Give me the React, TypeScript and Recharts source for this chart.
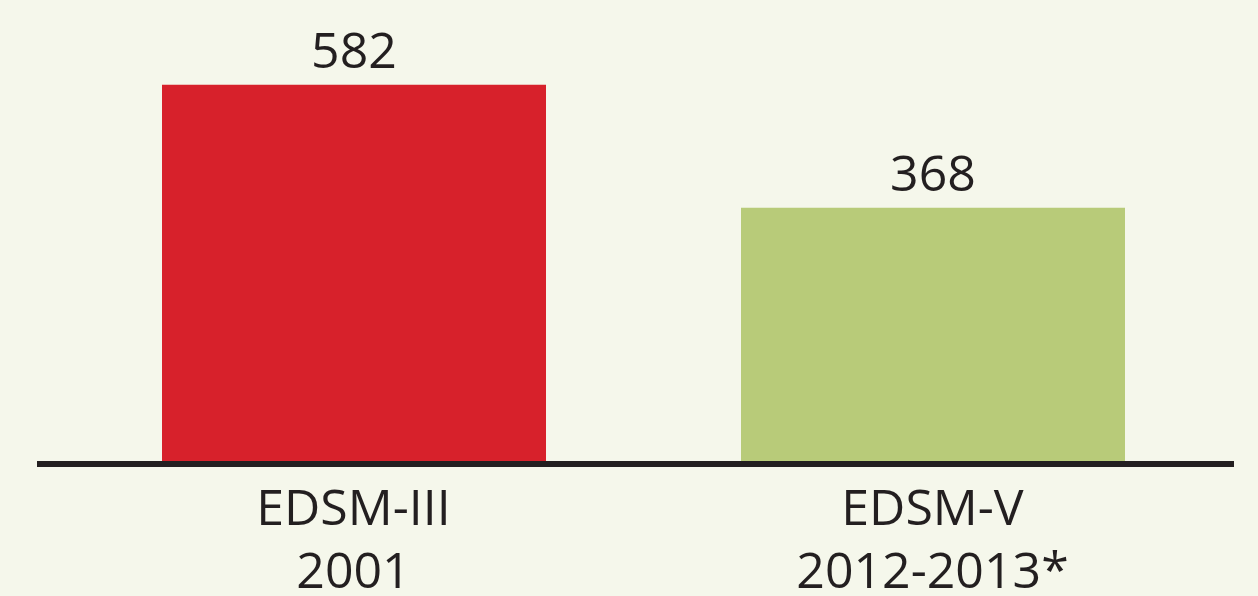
import { BarChart, Bar, XAxis, YAxis, Cell, LabelList } from "recharts";

const SURVEYS = ["EDSM-III", "EDSM-V"];
const PERIODS = ["2001", "2012-2013*"];
const VALUES = [582, 368];
const COLORS = ["#d7212b", "#b8cb79"];

// the original drawing does not start its bars at zero
const BASELINE = -78;

const TEXT = "#231f20";
const FONT = "'Open Sans', sans-serif";

const data = SURVEYS.map((s, i) => ({
  survey: s,
  period: PERIODS[i],
  value: VALUES[i],
}));

interface TickProps {
  x?: number;
  y?: number;
  index?: number;
}

function TwoLineTick({ x = 0, y = 0, index = 0 }: TickProps) {
  return (
    <text
      x={x}
      y={y}
      textAnchor="middle"
      fill={TEXT}
      fontSize={50}
      fontFamily={FONT}
    >
      <tspan x={x} dy={61}>
        {SURVEYS[index]}
      </tspan>
      <tspan x={x} dy={63}>
        {PERIODS[index]}
      </tspan>
    </text>
  );
}

export default function App() {
  return (
    <div
      style={{
        position: "fixed",
        top: 0,
        left: 0,
        width: 1258,
        height: 596,
        background: "#f5f7eb",
      }}
    >
      <BarChart
        width={1258}
        height={596}
        data={data}
        margin={{ top: 17, right: 24, bottom: 0, left: 37 }}
      >
        <YAxis hide type="number" domain={[BASELINE, 700]} />
        <XAxis
          dataKey="survey"
          height={132}
          tickLine={false}
          tickSize={0}
          tickMargin={0}
          padding={{ left: 27, right: 12 }}
          axisLine={{ stroke: TEXT, strokeWidth: 6 }}
          tick={<TwoLineTick />}
          interval={0}
        />
        <Bar
          dataKey={(d: { value: number }) => [BASELINE, d.value]}
          barSize={384}
          isAnimationActive={false}
        >
          {data.map((_, i) => (
            <Cell key={i} fill={COLORS[i]} />
          ))}
          <LabelList
            dataKey="value"
            position="top"
            offset={17}
            fill={TEXT}
            fontSize={50}
            fontFamily={FONT}
          />
        </Bar>
      </BarChart>
    </div>
  );
}
